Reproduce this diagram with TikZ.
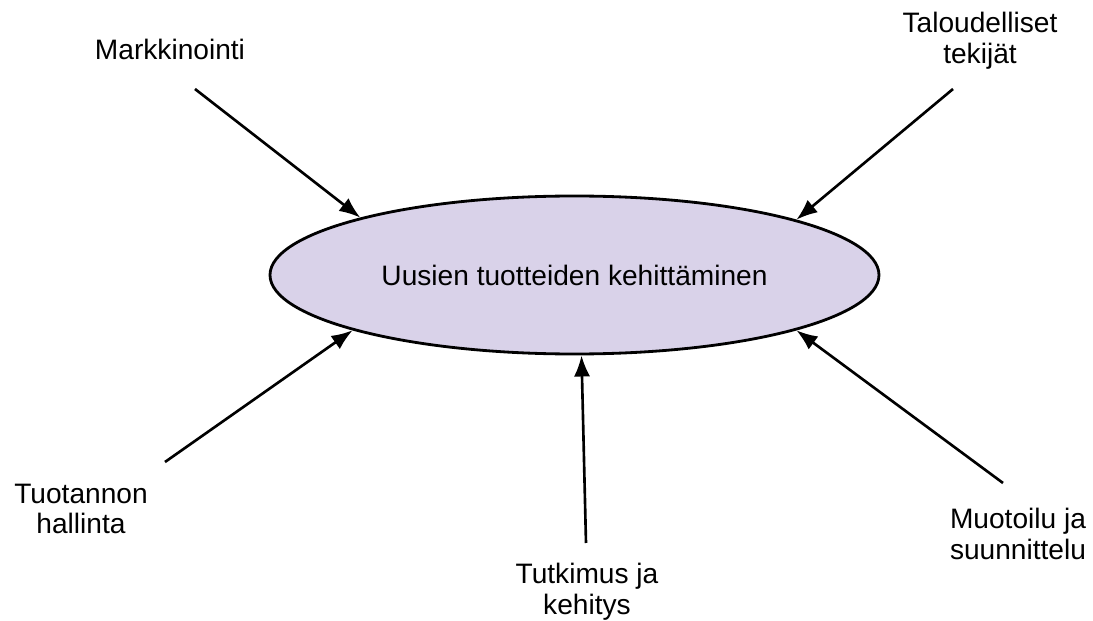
\documentclass[tikz,border=0pt]{standalone}
\usepackage{fontspec}
\setmainfont{Liberation Sans}
\usetikzlibrary{shapes.geometric,arrows.meta}
\definecolor{lilac}{HTML}{D9D2E9}

\begin{document}
\begin{tikzpicture}[
    factor/.style={align=center, inner sep=0pt, font=\fontsize{8}{8.7}\selectfont},
    goal/.style={ellipse, draw, line width=0.8pt, fill=lilac, inner sep=0pt,
        minimum width=6.09cm, minimum height=1.58cm, font=\fontsize{8}{9}\selectfont},
    feed/.style={-{Latex[length=6pt,width=4.6pt]}, line width=0.75pt}]
    \useasboundingbox (0,0) rectangle (10.93,6.20);
    % centre
    \node[goal] (dev) at (5.745,3.45) {Uusien tuotteiden kehittäminen};
    % factors
    \node[factor] (mark) at (1.70,5.71) {Markkinointi};
    \node[factor] (talo) at (9.80,5.79) {Taloudelliset\\tekijät};
    \node[factor] (tuot) at (0.81,1.11) {Tuotannon\\hallinta};
    \node[factor] (tutk) at (5.87,0.28) {Tutkimus ja\\kehitys};
    \node[factor] (muot) at (10.18,0.86) {Muotoilu ja\\suunnittelu};
    % arrow tails
    \coordinate (mark-s) at (1.95,5.31);
    \coordinate (talo-s) at (9.53,5.31);
    \coordinate (tuot-s) at (1.65,1.58);
    \coordinate (tutk-s) at (5.86,0.77);
    \coordinate (muot-s) at (10.03,1.37);
    \draw[feed] (mark-s) -- (dev.165);
    \draw[feed] (talo-s) -- (dev.14);
    \draw[feed] (tuot-s) -- (dev.194.5);
    \draw[feed] (tutk-s) -- (dev.275);
    \draw[feed] (muot-s) -- (dev.346);
\end{tikzpicture}
\end{document}
